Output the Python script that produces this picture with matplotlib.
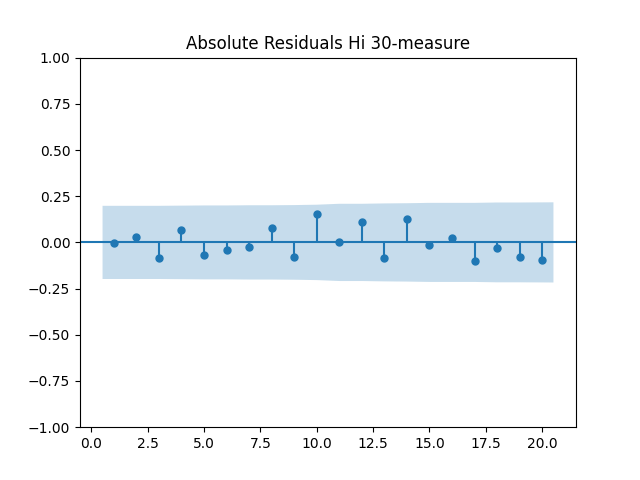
import matplotlib
matplotlib.use('Agg')
import matplotlib.pyplot as plt
import numpy as np

# autocorrelation values, lags 1..20
lags = np.arange(1, 21)
acf_vals = [-0.005, 0.030, -0.085, 0.068, -0.070, -0.043, -0.026, 0.079, -0.080, 0.154,
            0.002, 0.111, -0.086, 0.127, -0.014, 0.023, -0.102, -0.032, -0.077, -0.097]
# half-width of the confidence band at each lag
conf = [0.198, 0.198, 0.198, 0.199, 0.200, 0.200, 0.201, 0.201, 0.202, 0.204,
        0.209, 0.209, 0.211, 0.212, 0.214, 0.214, 0.214, 0.216, 0.216, 0.217]

fig, ax = plt.subplots(figsize=(6.4, 4.8), dpi=100)

ax.vlines(lags, 0, acf_vals, colors='C0')
ax.plot(lags, acf_vals, 'o', color='C0', markersize=5)
ax.axhline(0, color='C0')

band_x = lags.astype(float)
band_x[0] -= 0.5
band_x[-1] += 0.5
conf = np.array(conf)
ax.fill_between(band_x, -conf, conf, alpha=0.25, linewidth=0)

ax.set_ylim(-1, 1)
ax.set_title('Absolute Residuals Hi 30-measure')

fig.savefig('out.png')
